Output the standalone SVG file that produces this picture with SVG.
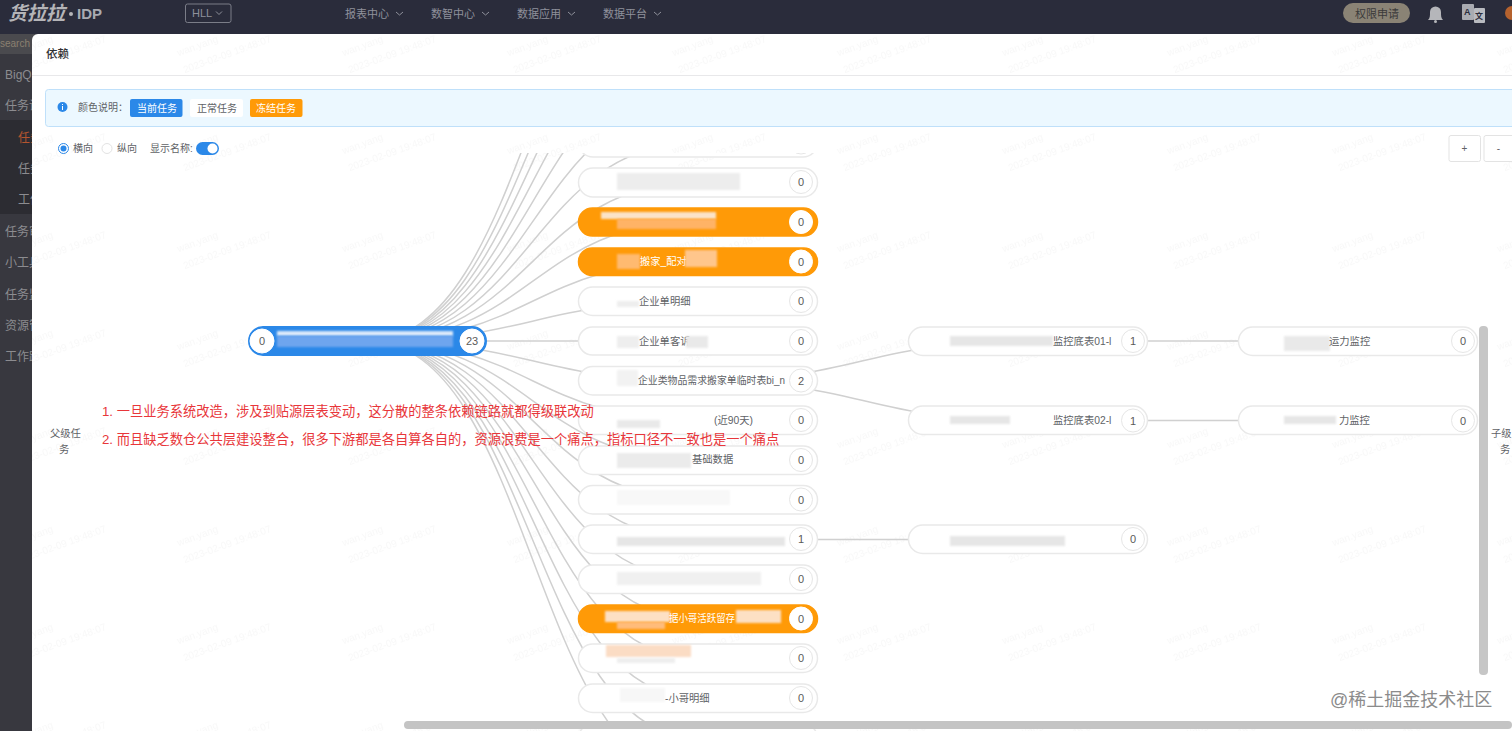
<svg xmlns="http://www.w3.org/2000/svg" width="1512" height="731" viewBox="0 0 1512 731">
<style>
text{font-family:"Liberation Sans","Noto Sans CJK SC",sans-serif;fill:#606266;font-size:10px}
.edge{fill:none;stroke:#d0d0d0;stroke-width:1.5}
.pill{fill:#fff;stroke:#e9e9e9;stroke-width:1.5}
.pill.o{fill:#ff9a07;stroke:#ff9a07}
.pill.b{fill:#2b88e8;stroke:#2b88e8;stroke-width:3}
.num{fill:#fff;stroke:#e6e6e6;stroke-width:1}
.num.w{stroke:#fff}
.cnt{font-size:11px;text-anchor:middle;fill:#5a5a5a}
.w{fill:#fff}
.lbl{font-size:10.300px}
.nav{fill:#8f919b;font-size:11px}
.side{fill:#8c8c90;font-size:12px}
.red{fill:#e8363a;font-size:13.250px}
.chev{fill:none;stroke:#8f919b;stroke-width:1}
.wm{fill:#000;fill-opacity:.028;font-size:10px}
.blur{filter:url(#b)}
</style>
<defs>
<filter id="b" x="-20%" y="-40%" width="140%" height="180%"><feGaussianBlur stdDeviation="1.2"/></filter>
<clipPath id="area"><rect x="32" y="153" width="1480" height="578"/></clipPath>
<pattern id="wmark" width="165" height="98" patternUnits="userSpaceOnUse" x="5" y="-3">
<g transform="rotate(-20 30 60)"><text class="wm" x="10" y="52">wan.yang</text><text class="wm" x="10" y="70">2023-02-09 19:48:07</text></g>
</pattern>
</defs>

<rect id="topbar" width="1512" height="34" fill="#2a2c3b"/>
<g id="header">
<text x="8" y="20" style="font-size:19px;font-weight:700;font-style:italic;fill:#b5b5b8">货拉拉</text>
<circle cx="71" cy="14" r="2" fill="#b5b5b8"/>
<text x="77" y="19" style="font-size:15px;font-weight:700;fill:#a9abb1">IDP</text>
<rect x="185.500" y="4" width="45.500" height="18.500" rx="2" fill="none" stroke="#7b7d88"/>
<text x="192" y="17" class="nav">HLL</text>
<polyline class="chev" points="216,11.500 219,14.500 222,11.500"/>
<text x="345" y="18" class="nav">报表中心</text><polyline class="chev" points="396,12 399.500,15 403,12"/>
<text x="431" y="18" class="nav">数智中心</text><polyline class="chev" points="482,12 485.500,15 489,12"/>
<text x="517" y="18" class="nav">数据应用</text><polyline class="chev" points="568,12 571.500,15 575,12"/>
<text x="603" y="18" class="nav">数据平台</text><polyline class="chev" points="654,12 657.500,15 661,12"/>
<rect x="1343" y="3" width="67" height="20" rx="10" fill="#8a8375"/>
<text x="1355" y="18" style="font-size:11px;fill:#3a3a3a">权限申请</text>
<path d="M1428 20c2-2 2-4 2-8a5.500 5.500 0 0 1 11 0c0 4 0 6 2 8z" fill="#b5b6ba"/><circle cx="1435.500" cy="21.500" r="1.500" fill="#b5b6ba"/>
<rect x="1462" y="4" width="12" height="16" rx="1" fill="#a9abb1"/><rect x="1474" y="8" width="11" height="15" rx="1" fill="#b9bbc0"/>
<text x="1464" y="15" style="font-size:9px;font-weight:700;fill:#2a2c3b">A</text>
<text x="1475" y="19" style="font-size:8px;font-weight:700;fill:#2a2c3b">文</text>
<circle cx="1512" cy="13" r="7" fill="#b5622e"/>
</g>
<g id="sidebar">
<rect y="34" width="40" height="697" fill="#38383f"/>
<rect y="34" width="40" height="20" fill="#4a4a4e"/>
<rect y="120" width="40" height="94" fill="#2c2c32"/>
<text x="0" y="47" style="font-size:10px;fill:#8a8070">search</text>
<text x="5" y="79" class="side">BigQ</text>
<text x="5" y="110" class="side">任务诊</text>
<text x="18" y="142" class="side" style="fill:#b5552f">任务</text>
<text x="18" y="173" class="side">任务</text>
<text x="18" y="204" class="side">工作</text>
<text x="5" y="236" class="side">任务审</text>
<text x="5" y="267" class="side">小工具</text>
<text x="5" y="299" class="side">任务监</text>
<text x="5" y="330" class="side">资源管</text>
<text x="5" y="361" class="side">工作跟</text>
</g>

<g id="dialog">
<path d="M38 34H1512V731H32V40a6 6 0 0 1 6-6z" fill="#fff"/>
<rect x="32" y="34" width="1480" height="697" fill="url(#wmark)"/>
<text x="46" y="58" style="font-size:11.500px;fill:#303133;font-weight:500">依赖</text>
<line x1="32" y1="75.500" x2="1512" y2="75.500" stroke="#e8e8ea"/>
<rect x="45.500" y="89.500" width="1480" height="37" rx="3" fill="#ecf8ff" stroke="#bfe0fa"/>
<circle cx="62.500" cy="107" r="5" fill="#2b88e8"/><rect x="62" y="106" width="1" height="4" fill="#fff"/><rect x="62" y="104" width="1" height="1" fill="#fff"/>
<text x="78" y="111">颜色说明：</text>
<g id="legend-current"><rect x="130" y="99" width="52.500" height="18" rx="2" fill="#2b88e8"/><text x="137" y="112" class="w">当前任务</text></g>
<g id="legend-normal"><rect x="190" y="99" width="53" height="18" rx="2" fill="#fff"/><text x="197" y="112">正常任务</text></g>
<g id="legend-frozen"><rect x="250" y="99" width="52.500" height="18" rx="2" fill="#ff9a07"/><text x="256" y="112" class="w">冻结任务</text></g>
<circle cx="63.500" cy="148.500" r="5" fill="#fff" stroke="#2b88e8"/><circle cx="63.500" cy="148.500" r="3" fill="#2b88e8"/>
<text x="73" y="152">横向</text>
<circle cx="107" cy="148.500" r="5" fill="#fff" stroke="#e3e3e3"/>
<text x="117" y="152">纵向</text>
<text x="150" y="152">显示名称:</text>
<rect x="196" y="142" width="23" height="13" rx="6.500" fill="#2b88e8"/><circle cx="212.500" cy="148.500" r="5" fill="#fff"/>
<rect x="1449" y="135.500" width="31.500" height="26" rx="2" fill="#fff" stroke="#e3e3e3"/><text x="1464.500" y="152" style="text-anchor:middle">+</text>
<rect x="1484" y="135.500" width="40" height="26" rx="2" fill="#fff" stroke="#e3e3e3"/><text x="1498.500" y="152" style="text-anchor:middle">-</text>
<text x="50" y="437" class="lbl">父级任</text><text x="59" y="453" class="lbl">务</text>
<text x="1491" y="437" class="lbl">子级</text><text x="1500" y="453" class="lbl">务</text>
</g>

<g clip-path="url(#area)">
<g id="connectors">
<path class="edge" d="M367 341C532.500 341 532.500 -95.700 698 -95.700"/>
<path class="edge" d="M367 341C532.500 341 532.500 -56 698 -56"/>
<path class="edge" d="M367 341C532.500 341 532.500 -16.300 698 -16.300"/>
<path class="edge" d="M367 341C532.500 341 532.500 23.400 698 23.400"/>
<path class="edge" d="M367 341C532.500 341 532.500 63.100 698 63.100"/>
<path class="edge" d="M367 341C532.500 341 532.500 102.800 698 102.800"/>
<path class="edge" d="M367 341C532.500 341 532.500 142.500 698 142.500"/>
<path class="edge" d="M367 341C532.500 341 532.500 182.200 698 182.200"/>
<path class="edge" d="M367 341C532.500 341 532.500 221.900 698 221.900"/>
<path class="edge" d="M367 341C532.500 341 532.500 261.600 698 261.600"/>
<path class="edge" d="M367 341C532.500 341 532.500 301.300 698 301.300"/>
<path class="edge" d="M367 341H698"/>
<path class="edge" d="M367 341C532.500 341 532.500 380.700 698 380.700"/>
<path class="edge" d="M367 341C532.500 341 532.500 420.400 698 420.400"/>
<path class="edge" d="M367 341C532.500 341 532.500 460.100 698 460.100"/>
<path class="edge" d="M367 341C532.500 341 532.500 499.800 698 499.800"/>
<path class="edge" d="M367 341C532.500 341 532.500 539.500 698 539.500"/>
<path class="edge" d="M367 341C532.500 341 532.500 579.200 698 579.200"/>
<path class="edge" d="M367 341C532.500 341 532.500 618.900 698 618.900"/>
<path class="edge" d="M367 341C532.500 341 532.500 658.600 698 658.600"/>
<path class="edge" d="M367 341C532.500 341 532.500 698.300 698 698.300"/>
<path class="edge" d="M367 341C532.500 341 532.500 738 698 738"/>
<path class="edge" d="M367 341C532.500 341 532.500 777.700 698 777.700"/>
<path class="edge" d="M698 380.700C863 380.700 863 341 1028 341"/>
<path class="edge" d="M698 380.700C863 380.700 863 420.400 1028 420.400"/>
<path class="edge" d="M698 539.500H1028"/>
<path class="edge" d="M1028 341H1358"/>
<path class="edge" d="M1028 420.400H1358"/>
</g>

<g id="n-root"><rect class="pill b" x="249.500" y="327.500" width="236" height="27" rx="13.500"/><circle class="num w" cx="262" cy="341" r="12"/><circle class="num w" cx="472" cy="341" r="12"/><text class="cnt" x="262" y="345">0</text><text class="cnt" x="472" y="345">23</text>
<rect class="blur" x="277" y="331" width="176" height="5" fill="#dbe9fa"/><rect class="blur" x="277" y="336" width="176" height="11" fill="#6ea5ee"/></g>

<g id="n1"><rect class="pill" x="578.500" y="128" width="239" height="29" rx="14.500"/><circle class="num" cx="801" cy="142.500" r="11.500"/></g>
<g id="n2"><rect class="pill" x="578.500" y="168" width="239" height="29" rx="14.500"/><rect class="blur" x="617" y="173" width="123" height="17" fill="#ededed"/><circle class="num" cx="801" cy="182" r="11.500"/><text class="cnt" x="801" y="186">0</text></g>
<g id="n3"><rect class="pill o" x="578.500" y="208" width="239" height="28" rx="14"/><rect class="blur" x="601" y="212" width="115" height="7" fill="#fbe3c8"/><rect class="blur" x="617" y="219" width="99" height="10" fill="#ffb366"/><circle class="num w" cx="801" cy="222" r="11.500"/><text class="cnt" x="801" y="226">0</text></g>
<g id="n4"><rect class="pill o" x="578.500" y="248" width="239" height="27.500" rx="13.750"/><rect class="blur" x="617" y="254" width="23" height="15" fill="#ffba70"/><text class="w lbl" x="640" y="265">搬家_配对</text><rect class="blur" x="685" y="250" width="32" height="17" fill="#ffc68c"/><circle class="num w" cx="801" cy="261.500" r="11.500"/><text class="cnt" x="801" y="265.500">0</text></g>
<g id="n5"><rect class="pill" x="578.500" y="287" width="239" height="28.500" rx="14.250"/><rect class="blur" x="617" y="301" width="22" height="6" fill="#eee"/><text class="lbl" x="639" y="305">企业单明细</text><circle class="num" cx="801" cy="301" r="11.500"/><text class="cnt" x="801" y="305">0</text></g>
<g id="n6"><rect class="pill" x="578.500" y="327" width="239" height="28" rx="14"/><rect class="blur" x="617" y="336" width="22" height="12" fill="#eee"/><text class="lbl" x="639" y="345">企业单客诉</text><rect class="blur" x="686" y="336" width="22" height="12" fill="#e9e9e9"/><circle class="num" cx="801" cy="341" r="11.500"/><text class="cnt" x="801" y="345">0</text></g>
<g id="n7"><rect class="pill" x="578.500" y="366.500" width="239" height="28.500" rx="14.250"/><rect class="blur" x="617" y="370" width="21" height="16" fill="#f2f2f2"/><text class="lbl" x="638" y="384" textLength="147" lengthAdjust="spacingAndGlyphs">企业类物品需求搬家单临时表bi_n</text><circle class="num" cx="801" cy="380.500" r="11.500"/><text class="cnt" x="801" y="384.500">2</text></g>
<g id="n8"><rect class="pill" x="578.500" y="406" width="239" height="28.500" rx="14.250"/><rect class="blur" x="617" y="420" width="43" height="8" fill="#e9e9e9"/><text class="lbl" x="714" y="424">(近90天)</text><circle class="num" cx="801" cy="420" r="11.500"/><text class="cnt" x="801" y="424">0</text></g>
<g id="n9"><rect class="pill" x="578.500" y="446" width="239" height="28.500" rx="14.250"/><rect class="blur" x="617" y="453" width="74" height="15" fill="#ebebeb"/><text class="lbl" x="692" y="463">基础数据</text><circle class="num" cx="801" cy="460" r="11.500"/><text class="cnt" x="801" y="464">0</text></g>
<g id="n10"><rect class="pill" x="578.500" y="485.500" width="239" height="28.500" rx="14.250"/><rect class="blur" x="617" y="490" width="113" height="15" fill="#f8f8f8"/><circle class="num" cx="801" cy="499.500" r="11.500"/><text class="cnt" x="801" y="503.500">0</text></g>
<g id="n11"><rect class="pill" x="578.500" y="525" width="239" height="28.500" rx="14.250"/><rect class="blur" x="617" y="537" width="168" height="9" fill="#e6e6e6"/><circle class="num" cx="801" cy="539" r="11.500"/><text class="cnt" x="801" y="543">1</text></g>
<g id="n12"><rect class="pill" x="578.500" y="565" width="239" height="28.500" rx="14.250"/><rect class="blur" x="617" y="572" width="144" height="13" fill="#f0f0f0"/><circle class="num" cx="801" cy="579" r="11.500"/><text class="cnt" x="801" y="583">0</text></g>
<g id="n13"><rect class="pill o" x="578.500" y="605" width="239" height="27.500" rx="13.750"/><rect class="blur" x="605" y="611" width="65" height="11" fill="#fde0c4"/><rect class="blur" x="617" y="622" width="48" height="7" fill="#ffbc7a"/><text class="w lbl" x="669" y="622" textLength="66" lengthAdjust="spacingAndGlyphs">据小哥活跃留存</text><rect class="blur" x="736" y="610" width="45" height="13" fill="#fde0c4"/><circle class="num w" cx="801" cy="618.500" r="11.500"/><text class="cnt" x="801" y="622.500">0</text></g>
<g id="n14"><rect class="pill" x="578.500" y="644" width="239" height="28.500" rx="14.250"/><rect class="blur" x="606" y="645" width="85" height="12" fill="#fbdcc4"/><rect class="blur" x="617" y="658" width="58" height="5" fill="#eee"/><circle class="num" cx="801" cy="658" r="11.500"/><text class="cnt" x="801" y="662">0</text></g>
<g id="n15"><rect class="pill" x="578.500" y="684" width="239" height="28.500" rx="14.250"/><rect class="blur" x="620" y="688" width="45" height="14" fill="#f7f7f7"/><text class="lbl" x="665" y="702">-小哥明细</text><circle class="num" cx="801" cy="698" r="11.500"/><text class="cnt" x="801" y="702">0</text></g>
<g id="n16"><rect class="pill" x="578.500" y="724" width="239" height="28.500" rx="14.250"/></g>

<g id="n17"><rect class="pill" x="908.500" y="327" width="239" height="28.500" rx="14.250"/><rect class="blur" x="950" y="336" width="103" height="10" fill="#e6e6e6"/><text class="lbl" x="1053" y="345">监控底表01-l</text><circle class="num" cx="1133" cy="341" r="11.500"/><text class="cnt" x="1133" y="345">1</text></g>
<g id="n18"><rect class="pill" x="908.500" y="406" width="239" height="28.500" rx="14.250"/><rect class="blur" x="950" y="416" width="60" height="8" fill="#e6e6e6"/><text class="lbl" x="1053" y="424">监控底表02-l</text><circle class="num" cx="1133" cy="420.500" r="11.500"/><text class="cnt" x="1133" y="424.500">1</text></g>
<g id="n19"><rect class="pill" x="908.500" y="525" width="239" height="28.500" rx="14.250"/><rect class="blur" x="950" y="536" width="115" height="10" fill="#e6e6e6"/><circle class="num" cx="1133" cy="539" r="11.500"/><text class="cnt" x="1133" y="543">0</text></g>
<g id="n20"><rect class="pill" x="1238.500" y="327" width="239" height="28.500" rx="14.250"/><rect class="blur" x="1284" y="336" width="46" height="15" fill="#e9e9e9"/><text class="lbl" x="1329" y="345">运力监控</text><circle class="num" cx="1463" cy="341" r="11.500"/><text class="cnt" x="1463" y="345">0</text></g>
<g id="n21"><rect class="pill" x="1238.500" y="406" width="239" height="28.500" rx="14.250"/><rect class="blur" x="1284" y="416" width="52" height="8" fill="#e6e6e6"/><text class="lbl" x="1339" y="424">力监控</text><circle class="num" cx="1463" cy="420.500" r="11.500"/><text class="cnt" x="1463" y="424.500">0</text></g>
</g>

<g id="notes">
<text class="red" x="102" y="416">1. 一旦业务系统改造，涉及到贴源层表变动，这分散的整条依赖链路就都得级联改动</text>
<text class="red" x="102" y="444">2. 而且缺乏数仓公共层建设整合，很多下游都是各自算各自的，资源浪费是一个痛点，指标口径不一致也是一个痛点</text>
</g>
<rect id="vscroll" x="1479" y="326" width="9" height="349" rx="4" fill="#c6c6c6"/>
<rect id="hscroll" x="404" y="721" width="1108" height="8" rx="4" fill="#c4c4c4"/>
<text id="credit" x="1330" y="706" style="font-size:18px;fill:#8b8b8b">@稀土掘金技术社区</text>
</svg>
